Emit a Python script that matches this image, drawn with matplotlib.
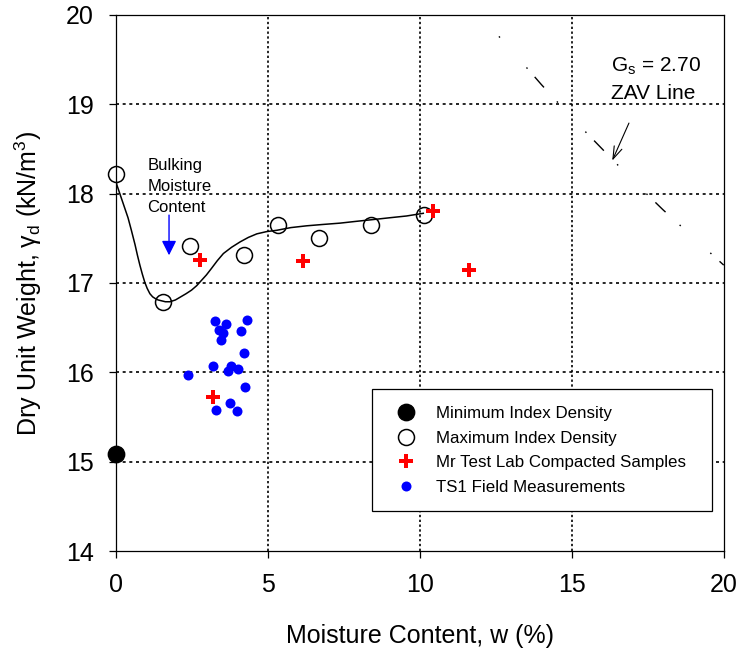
import numpy as np
import matplotlib
matplotlib.use('Agg')
import matplotlib.pyplot as plt

plt.rcParams['font.family'] = ['Liberation Sans', 'DejaVu Sans']
plt.rcParams['mathtext.fontset'] = 'custom'
plt.rcParams['mathtext.rm'] = 'Liberation Sans'
plt.rcParams['mathtext.it'] = 'Liberation Sans:italic'

# minimum / maximum index density
min_w = [0.0]
min_gd = [15.09]
max_w = [0.0, 1.55, 2.43, 4.21, 5.33, 6.68, 8.39, 10.13]
max_gd = [18.22, 16.79, 17.41, 17.31, 17.65, 17.50, 17.65, 17.76]

# fitted curve through max index density
curve_w = [0.0, 0.02, 0.08, 0.17, 0.27, 0.39, 0.50, 0.62, 0.70, 0.78, 0.86, 0.94, 1.02,
           1.11, 1.20, 1.29, 1.38, 1.50, 1.62, 1.77, 1.95, 2.15, 2.30, 2.48, 2.65,
           2.81, 2.97, 3.13, 3.33, 3.53, 3.80, 4.08, 4.35, 4.63, 4.95, 5.29, 5.75,
           6.27, 6.80, 7.37, 7.90, 8.46, 9.00, 9.56, 10.11]
curve_gd = [18.15, 18.10, 18.04, 17.95, 17.85, 17.73, 17.59, 17.43, 17.31, 17.20, 17.10, 17.01, 16.94,
            16.88, 16.845, 16.825, 16.81, 16.80, 16.79, 16.79, 16.81, 16.85, 16.88, 16.92, 16.97,
            17.03, 17.09, 17.16, 17.25, 17.33, 17.40, 17.46, 17.51, 17.55, 17.575, 17.59, 17.62,
            17.64, 17.655, 17.67, 17.69, 17.71, 17.73, 17.75, 17.78]

# Mr test lab compacted samples
lab_w = [2.76, 6.15, 10.43, 11.61, 3.20]
lab_gd = [17.26, 17.25, 17.81, 17.15, 15.72]

# TS1 field measurements
field_w = [3.26, 3.61, 4.30, 3.37, 3.51, 4.10, 3.44, 4.20, 3.20, 3.79, 3.69, 4.00,
           2.35, 4.24, 3.74, 3.30, 3.99]
field_gd = [16.57, 16.54, 16.59, 16.47, 16.44, 16.46, 16.36, 16.22, 16.07, 16.07, 16.01, 16.04,
            15.97, 15.84, 15.66, 15.58, 15.57]

# ZAV line, Gs = 2.70
zav_w = [12.6, 13, 14, 15, 16, 17, 18, 19, 20]
zav_gd = [19.76, 19.61, 19.22, 18.85, 18.50, 18.15, 17.82, 17.51, 17.20]

fig = plt.figure(figsize=(7.4, 6.51), dpi=100)
ax = fig.add_axes([0.157, 0.1536, 0.821, 0.8234])

ax.set_xlim(0, 20)
ax.set_ylim(14, 20)
ax.set_xticks([0, 5, 10, 15, 20])
ax.set_yticks([14, 15, 16, 17, 18, 19, 20])

# dotted grid, inner lines only
for gx in [5, 10, 15]:
    ax.axvline(gx, color='black', lw=1.2, linestyle=(0, (1.4, 1.5)), zorder=1)
for gy in [15, 16, 17, 18, 19]:
    ax.axhline(gy, color='black', lw=1.2, linestyle=(0, (1.8, 2.2)), zorder=1)

ax.plot(zav_w, zav_gd, color='black', lw=1.0,
        linestyle=(32.8, (1.1, 7.9, 10.1, 13.7, 1.1, 28.8)))

ax.plot(curve_w, curve_gd, color='black', lw=1.1, zorder=3)

ax.plot(min_w, min_gd, 'o', color='black', ms=11.8, clip_on=False, zorder=4,
        label='Minimum Index Density')
ax.plot(max_w, max_gd, 'o', mfc='none', mec='black', mew=1.1, ms=11.5, clip_on=False,
        zorder=4, label='Maximum Index Density')
ax.plot(lab_w, lab_gd, 'P', color='red', ms=9.5, mew=0, zorder=5,
        label='Mr Test Lab Compacted Samples')
ax.plot(field_w, field_gd, 'o', color='blue', ms=7.2, mew=0, zorder=5,
        label='TS1 Field Measurements')

# annotations
for txt, yy in zip(['Bulking', 'Moisture', 'Content'], [18.31, 18.08, 17.85]):
    ax.text(1.03, yy, txt, fontsize=12, ha='left', va='center')
ax.annotate('', xy=(1.74, 17.31), xytext=(1.74, 17.76),
            arrowprops=dict(arrowstyle='-|>,head_length=0.4,head_width=0.2',
                            color='blue', lw=1.0, mutation_scale=22,
                            shrinkA=0, shrinkB=0))

ax.text(16.3, 19.43, 'G$_\\mathrm{s}$ = 2.70', fontsize=15, ha='left', va='center')
ax.text(16.3, 19.12, 'ZAV Line', fontsize=15, ha='left', va='center')
ax.annotate('', xy=(16.33, 18.37), xytext=(16.88, 18.79),
            arrowprops=dict(arrowstyle='->,head_length=0.45,head_width=0.15',
                            color='black', lw=0.8, mutation_scale=20,
                            shrinkA=0, shrinkB=0))

leg = ax.legend(loc='upper left', bbox_to_anchor=(0.421, 0.0765, 0.559, 0.2255),
                mode='expand', fontsize=12.2, frameon=True, fancybox=False,
                edgecolor='black', framealpha=1, borderpad=1.0, labelspacing=0.56,
                handlelength=2.0, handletextpad=0.8, borderaxespad=0)
leg.get_frame().set_linewidth(0.9)
leg.set_zorder(10)

for sp in ax.spines.values():
    sp.set_linewidth(0.9)
    sp.set_zorder(6)
ax.tick_params(direction='out', length=5, width=0.9, labelsize=18, pad=11)

ax.set_xlabel('Moisture Content, w (%)', fontsize=18, labelpad=19)
ax.set_ylabel('Dry Unit Weight, γ$_\\mathrm{d}$ (kN/m$^\\mathrm{3}$)', fontsize=18, labelpad=16)

fig.savefig('out.png', dpi=100)
